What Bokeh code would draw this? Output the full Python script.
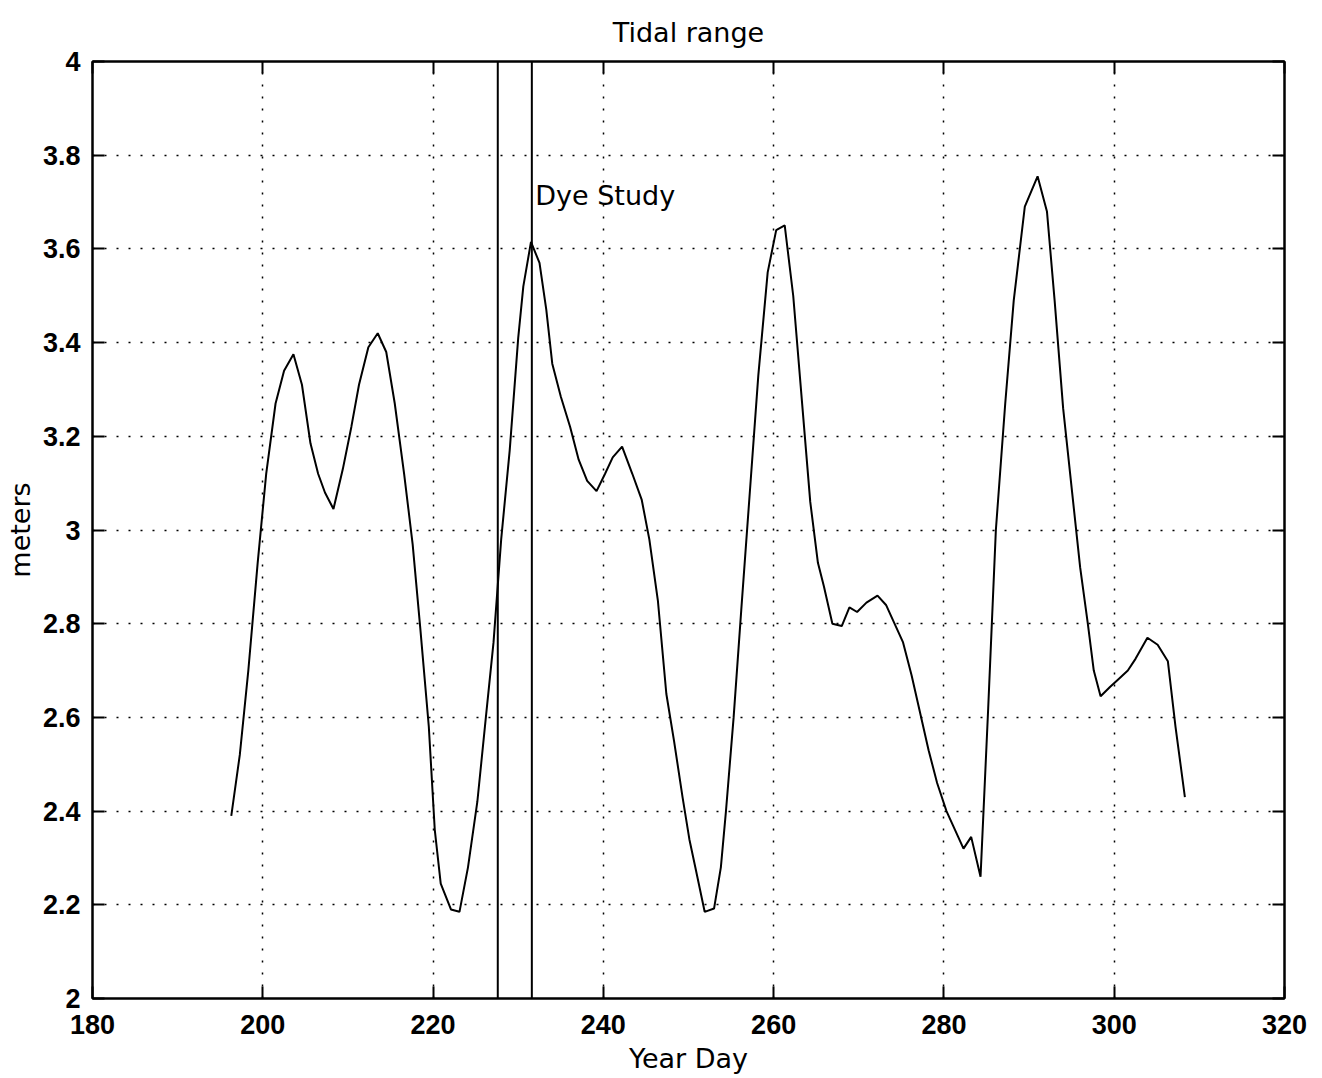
from bokeh.plotting import figure
from bokeh.models import Range1d, FixedTicker, LinearAxis, Label
from bokeh.embed import file_html
from bokeh.resources import INLINE

# ---- data ----
day = [196.3, 197.3, 198.3, 199.4, 200.4, 201.5, 202.5, 203.6, 204.6, 205.6,
       206.5, 207.3, 208.3, 209.4, 210.4, 211.3, 212.4, 213.5, 214.5, 215.5,
       216.6, 217.6, 218.5, 219.5, 220.2, 220.9, 222.1, 223.1, 224.1, 225.2,
       226.2, 227.1, 228.0, 229.0, 230.0, 230.6, 231.5, 232.5, 233.3, 234.0,
       235.0, 236.1, 237.1, 238.1, 239.2, 240.2, 241.1, 242.2, 243.4, 244.5,
       245.4, 246.4, 247.4, 248.3, 249.3, 250.1, 250.8, 251.9, 253.0, 253.8,
       254.4, 255.3, 256.2, 257.2, 258.2, 259.3, 260.3, 261.3, 262.3, 263.3,
       264.3, 265.2, 265.9, 266.9, 268.0, 268.9, 269.8, 270.9, 272.2, 273.2,
       274.2, 275.2, 276.2, 277.2, 278.2, 279.2, 280.3, 281.3, 282.3, 283.2,
       284.3, 285.2, 286.1, 287.2, 288.2, 289.5, 291.0, 292.1, 293.0, 294.0,
       295.0, 296.0, 296.9, 297.6, 298.4, 299.5, 300.4, 301.6, 302.5, 303.9,
       305.1, 306.3, 307.2, 308.3]
tidal_range = [2.39, 2.52, 2.70, 2.93, 3.12, 3.27, 3.34, 3.375, 3.31, 3.185,
               3.12, 3.08, 3.045, 3.13, 3.22, 3.31, 3.39, 3.42, 3.38, 3.27,
               3.12, 2.97, 2.79, 2.58, 2.36, 2.245, 2.19, 2.185, 2.28, 2.42,
               2.60, 2.76, 2.98, 3.17, 3.41, 3.52, 3.615, 3.57, 3.47, 3.355,
               3.285, 3.22, 3.15, 3.105, 3.083, 3.12, 3.155, 3.178, 3.12, 3.065,
               2.98, 2.85, 2.65, 2.55, 2.43, 2.34, 2.28, 2.185, 2.192, 2.28,
               2.40, 2.60, 2.83, 3.08, 3.33, 3.55, 3.64, 3.65, 3.50, 3.28,
               3.06, 2.93, 2.88, 2.80, 2.795, 2.835, 2.825, 2.845, 2.86, 2.84,
               2.80, 2.76, 2.69, 2.61, 2.53, 2.46, 2.40, 2.36, 2.32, 2.345,
               2.26, 2.62, 3.00, 3.27, 3.49, 3.69, 3.755, 3.68, 3.49, 3.26,
               3.09, 2.92, 2.80, 2.70, 2.645, 2.665, 2.68, 2.70, 2.725, 2.77,
               2.755, 2.72, 2.58, 2.43]
dye_study_days = [227.6, 231.6]
dye_label_day = 232.0
dye_label_level = 3.714
x_ticks = [180, 200, 220, 240, 260, 280, 300, 320]
y_ticks = [2.0, 2.2, 2.4, 2.6, 2.8, 3.0, 3.2, 3.4, 3.6, 3.8, 4.0]
y_tick_labels = ["2", "2.2", "2.4", "2.6", "2.8", "3", "3.2", "3.4", "3.6", "3.8", "4"]

FONT = "DejaVu Sans"
TICK_FONT = "Liberation Sans"

p = figure(width=1322, height=1078, output_backend="svg", toolbar_location=None,
           x_range=Range1d(180, 320), y_range=Range1d(2, 4),
           min_border_left=92, min_border_right=38, min_border_top=61,
           min_border_bottom=80, title="Tidal range")
p.background_fill_color = "white"
p.border_fill_color = "white"
p.outline_line_color = "black"
p.outline_line_width = 2

p.title.align = "center"
p.title.offset = -12
p.title.text_font = FONT
p.title.text_font_size = "27px"
p.title.text_font_style = "normal"
p.title.text_color = "black"
p.title.standoff = 28


def style_axis(ax, show_labels):
    ax.axis_line_color = "black"
    ax.axis_line_width = 2
    ax.major_tick_line_color = "black"
    ax.major_tick_line_width = 2
    ax.major_tick_in = 12
    ax.major_tick_out = 0
    ax.minor_tick_in = 0
    ax.minor_tick_out = 0
    ax.minor_tick_line_color = None
    if show_labels:
        ax.major_label_text_font = TICK_FONT
        ax.major_label_text_font_size = "27px"
        ax.major_label_text_font_style = "bold"
        ax.major_label_text_color = "black"
        ax.axis_label_text_font = FONT
        ax.axis_label_text_font_size = "27px"
        ax.axis_label_text_font_style = "normal"
        ax.axis_label_text_color = "black"
    else:
        ax.major_label_text_font_size = "0px"
        ax.major_label_text_color = None
        ax.major_label_standoff = 0


xa = p.xaxis[0]
xa.ticker = FixedTicker(ticks=x_ticks)
xa.axis_label = "Year Day"
style_axis(xa, True)
xa.major_label_standoff = 16
xa.axis_label_standoff = 6

ya = p.yaxis[0]
ya.ticker = FixedTicker(ticks=y_ticks)
ya.major_label_overrides = {t: s for t, s in zip(y_ticks, y_tick_labels)}
ya.axis_label = "meters"
style_axis(ya, True)
ya.major_label_standoff = 12
ya.axis_label_standoff = 4

top_ax = LinearAxis(ticker=FixedTicker(ticks=x_ticks))
style_axis(top_ax, False)
p.add_layout(top_ax, "above")
right_ax = LinearAxis(ticker=FixedTicker(ticks=y_ticks))
style_axis(right_ax, False)
p.add_layout(right_ax, "right")

for g in (p.xgrid[0], p.ygrid[0]):
    g.grid_line_color = "black"
    g.grid_line_dash = "2 10"
    g.grid_line_width = 1.5
    g.grid_line_alpha = 1.0

p.segment(x0=dye_study_days, y0=[y_ticks[0]] * 2, x1=dye_study_days, y1=[y_ticks[-1]] * 2,
          line_color="black", line_width=2)
p.line(day, tidal_range, line_color="black", line_width=2)

p.add_layout(Label(x=dye_label_day, y=dye_label_level, text="Dye Study",
                   text_font=FONT, text_font_size="27px", text_baseline="middle",
                   text_color="black"))

open("out.html", "w").write(file_html(p, INLINE))
